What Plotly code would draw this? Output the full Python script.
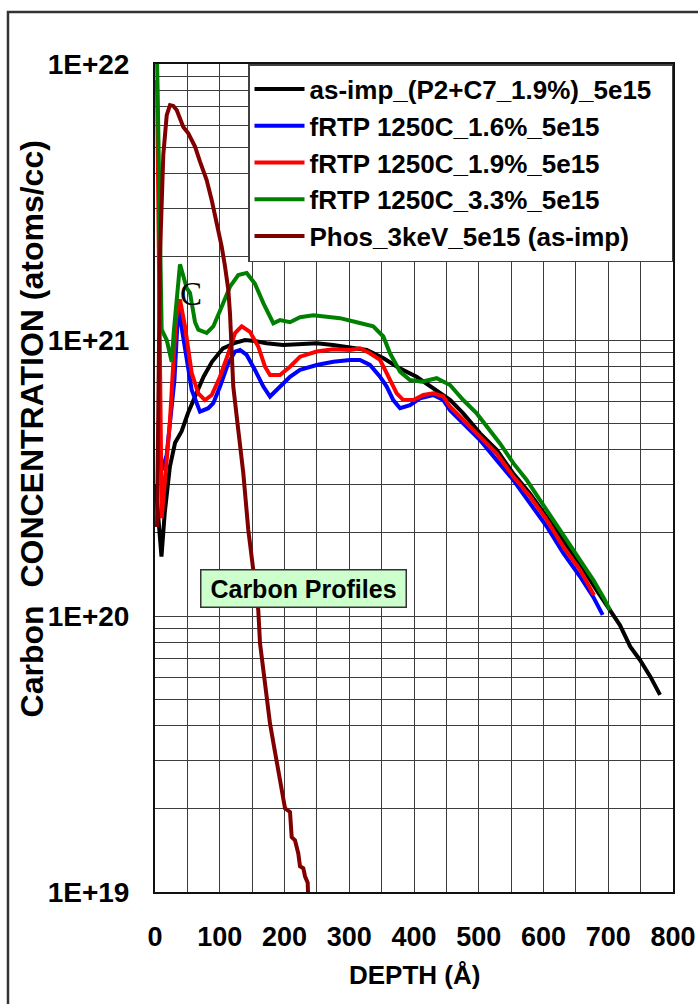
import plotly.graph_objects as go

# ---------------- data (depth in Angstrom, concentration in atoms/cc) ----------------
depth_asimp = [1, 5, 10, 15, 23, 31, 41, 51, 62, 75, 88, 105, 124, 139, 154, 172, 198, 224, 250,
               275, 301, 327, 353, 378, 404, 430, 456, 476, 502, 528, 553, 579, 605, 631, 656,
               682, 703, 718, 734, 749, 765, 780]
conc_asimp = [3.0e20, 2.23e20, 1.64e20, 2.36e20, 3.48e20, 4.24e20, 4.66e20, 5.44e20, 6.24e20,
              7.36e20, 8.34e20, 9.33e20, 9.77e20, 1.0e21, 9.92e20, 9.73e20, 9.59e20, 9.67e20,
              9.73e20, 9.59e20, 9.38e20, 9.2e20, 8.59e20, 7.89e20, 7.36e20, 6.68e20, 6.06e20,
              5.42e20, 4.59e20, 3.99e20, 3.29e20, 2.78e20, 2.29e20, 1.88e20, 1.55e20, 1.24e20,
              1.04e20, 9.27e19, 7.74e19, 6.93e19, 6.03e19, 5.18e19]

depth_16 = [7, 10.8, 18, 24, 30, 36, 46.3, 56.7, 69.5, 82.3, 90, 100.4, 113.2, 123.6, 131.3,
            141.6, 154.4, 167.3, 177.6, 193, 208.5, 224, 249.7, 275.4, 301.2, 316.6, 332, 347.5,
            357.8, 368, 378.4, 393.8, 409.3, 429.8, 445.3, 455.6, 476.1, 501.9, 527.7, 553.4,
            579.2, 605, 630.6, 656.4, 677, 691.4]
conc_16 = [3.8e20, 3.38e20, 3.83e20, 5.2e20, 7.16e20, 1.32e21, 9.46e20, 6.59e20, 5.5e20,
           5.66e20, 5.9e20, 6.78e20, 8.24e20, 9.08e20, 9.2e20, 8.83e20, 7.79e20, 6.78e20, 6.24e20,
           6.78e20, 7.36e20, 7.79e20, 8.12e20, 8.34e20, 8.47e20, 8.47e20, 8.12e20, 7.36e20,
           6.78e20, 6.06e20, 5.66e20, 5.81e20, 6.15e20, 6.32e20, 6.06e20, 5.57e20, 4.99e20,
           4.34e20, 3.67e20, 3.11e20, 2.56e20, 2.11e20, 1.69e20, 1.39e20, 1.17e20, 1.01e20]

depth_19 = [3.1, 6.2, 8.5, 10.3, 18.1, 23.2, 28.3, 32.4, 36, 38.6, 46.3, 56.7, 66.9, 77.2, 87.6,
            100.4, 113.2, 123.6, 133.9, 146.7, 159.5, 169.9, 177.6, 193, 208.5, 224, 249.7,
            275.4, 301.2, 316.6, 332, 347.5, 357.8, 373.3, 383.5, 399, 414.4, 429.8, 445.3,
            455.6, 476.1, 501.9, 527.7, 553.4, 579.2, 605, 630.6, 656.4, 669.2, 678]
conc_19 = [8.75e21, 2.12e21, 3.99e20, 2.26e20, 3.67e20, 5.13e20, 8.26e20, 1.18e21, 1.36e21,
           1.40e21, 1.12e21, 7.58e20, 6.41e20, 6.06e20, 6.32e20, 7.36e20, 8.95e20, 1.06e21,
           1.12e21, 1.07e21, 9.46e20, 8.0e20, 7.47e20, 7.47e20, 8.0e20, 8.7e20, 9.08e20,
           9.25e20, 9.2e20, 9.33e20, 8.95e20, 8.47e20, 7.58e20, 6.41e20, 6.06e20, 6.06e20,
           6.32e20, 6.41e20, 6.24e20, 5.73e20, 5.13e20, 4.46e20, 3.88e20, 3.2e20, 2.71e20,
           2.23e20, 1.78e20, 1.47e20, 1.29e20, 1.19e20]

depth_33 = [2, 5.4, 7.7, 10.3, 18.1, 25.8, 29.3, 33.5, 38.6, 49, 54.1, 61.8, 66.9, 79.8, 90,
            103, 115.8, 128.6, 141.6, 154.4, 167.3, 182.7, 193, 208.5, 224, 244.5, 265, 285.7,
            311.5, 337, 352.6, 363, 378.4, 393.8, 412, 435, 455.6, 476, 496.8, 517.4, 532.8,
            553.4, 574, 594.6, 615, 635.8, 656.4, 677, 692.4, 702.7]
conc_33 = [1.5e22, 4.88e21, 2.12e21, 1.09e21, 1.0e21, 8.34e20, 1.09e21, 1.44e21, 1.88e21,
           1.54e21, 1.48e21, 1.16e21, 1.09e21, 1.06e21, 1.12e21, 1.32e21, 1.56e21, 1.72e21,
           1.75e21, 1.60e21, 1.36e21, 1.15e21, 1.18e21, 1.16e21, 1.21e21, 1.23e21, 1.21e21,
           1.20e21, 1.16e21, 1.12e21, 1.03e21, 8.95e20, 7.68e20, 7.16e20, 7.06e20, 7.27e20,
           6.87e20, 6.06e20, 5.42e20, 4.72e20, 4.22e20, 3.58e20, 3.11e20, 2.63e20, 2.23e20,
           1.89e20, 1.60e20, 1.35e20, 1.17e20, 1.05e20]

depth_phos = [3.1, 5.4, 7.7, 12.8, 18.1, 23.2, 28.3, 33.5, 38.6, 43.7, 51.4, 57.1, 61.8, 69.5,
              79.8, 87.6, 95.3, 103, 108.1, 113.2, 115.8, 117.4, 120.9, 128.6, 136.4, 144.1,
              151.8, 159.5, 162.2, 169.9, 177.6, 185.3, 195.7, 200.8, 208.5, 211.1, 216.2,
              221.3, 223.9, 229, 231.7, 235.8, 236.8]
conc_phos = [2.1e20, 6.06e20, 2.03e21, 4.68e21, 6.53e21, 7.1e21, 7.05e21, 6.81e21, 6.27e21,
             5.91e21, 5.61e21, 5.3e21, 5.02e21, 4.43e21, 3.80e21, 3.21e21, 2.65e21, 2.18e21,
             1.85e21, 1.52e21, 1.25e21, 1.0e21, 6.78e20, 4.72e20, 3.29e20, 2.05e20, 1.51e20,
             1.05e20, 7.96e19, 5.7e19, 4.08e19, 3.22e19, 2.34e19, 2.01e19, 1.95e19, 1.58e19,
             1.54e19, 1.38e19, 1.24e19, 1.22e19, 1.14e19, 1.08e19, 9.3e18]

series_names = ["as-imp_(P2+C7_1.9%)_5e15", "fRTP 1250C_1.6%_5e15", "fRTP 1250C_1.9%_5e15",
                "fRTP 1250C_3.3%_5e15", "Phos_3keV_5e15 (as-imp)"]
series_x = [depth_asimp, depth_16, depth_19, depth_33, depth_phos]
series_y = [conc_asimp, conc_16, conc_19, conc_33, conc_phos]
series_colors = ["#000000", "#0000FF", "#FF0000", "#008000", "#800000"]

x_ticks = [0, 100, 200, 300, 400, 500, 600, 700, 800]
y_ticks = [1e19, 1e20, 1e21, 1e22]
y_tick_text = ["1E+19", "1E+20", "1E+21", "1E+22"]
y_minor = [k * 10.0 ** e for e in (19, 20, 21) for k in range(2, 10)]

FONT = "Liberation Sans, Arial, sans-serif"

fig = go.Figure()
for name, xs, ys, col in zip(series_names, series_x, series_y, series_colors):
    # trailing non-breaking spaces on the longest entry widen the legend box like the original
    label = name + "\u00a0\u00a0" if name == series_names[0] else name
    fig.add_trace(go.Scatter(x=xs, y=ys, mode="lines", name=label, legendgroup=name,
                             line=dict(color=col, width=4)))

grid_col = "#3c3c3c"
fig.update_xaxes(range=[0, 800], tickvals=x_ticks, ticks="", showgrid=True, gridcolor=grid_col,
                 gridwidth=1, minor=dict(dtick=50, showgrid=True, gridcolor=grid_col, gridwidth=1),
                 showline=True, linecolor="#111", linewidth=2, mirror=True, zeroline=False,
                 automargin=False,
                 tickfont=dict(family=FONT, size=27, color="black", weight="bold"),
                 ticklabelstandoff=20)
fig.update_yaxes(type="log", range=[19, 22], tickvals=y_ticks, ticktext=y_tick_text, ticks="",
                 showgrid=True, gridcolor=grid_col, gridwidth=1,
                 minor=dict(tickvals=y_minor, showgrid=True, gridcolor=grid_col, gridwidth=1),
                 showline=True, linecolor="#111", linewidth=2, mirror=True, zeroline=False,
                 automargin=False,
                 tickfont=dict(family=FONT, size=28, color="black", weight="bold"),
                 ticklabelstandoff=18)

fig.update_layout(
    width=698, height=1004,
    margin=dict(l=155, r=25, t=64, b=112, autoexpand=False),
    paper_bgcolor="white", plot_bgcolor="white",
    showlegend=True,
    legend=dict(x=1, y=1, xanchor="right", yanchor="top", bgcolor="white",
                bordercolor="#404040", borderwidth=1.5, tracegroupgap=0, traceorder="grouped",
                itemwidth=50,
                font=dict(family=FONT, size=26, color="black", weight="bold")),
    annotations=[
        dict(text="DEPTH (Å)", xref="paper", yref="paper", x=0.5, y=-0.1, xanchor="center",
             yanchor="middle", showarrow=False,
             font=dict(family=FONT, size=26, color="black", weight="bold")),
        dict(text="Carbon\u00a0 CONCENTRATION (atoms/cc)", xref="paper", yref="paper",
             x=-0.237, y=0.559, xanchor="center", yanchor="middle", textangle=-90,
             showarrow=False, font=dict(family=FONT, size=32, color="black", weight="bold")),
        dict(text="C", xref="x", yref="y", x=55.6, y=21.167, showarrow=False,
             font=dict(family="Liberation Serif, Times New Roman, serif", size=33, color="black")),
        dict(text="Carbon Profiles", xref="x", yref="y", x=230, y=20.101, showarrow=False,
             bgcolor="#CCFFCC", bordercolor="#333333", borderwidth=1.5, borderpad=4,
             width=196, height=28,
             font=dict(family=FONT, size=25, color="black", weight="bold")),
    ],
    shapes=[
        dict(type="rect", xref="paper", yref="paper", x0=-0.2838, x1=1.08, y0=-0.16, y1=1.0628,
             line=dict(color="#333333", width=2.5), fillcolor="rgba(0,0,0,0)", layer="below"),
    ],
)

fig.write_html("out.html")
